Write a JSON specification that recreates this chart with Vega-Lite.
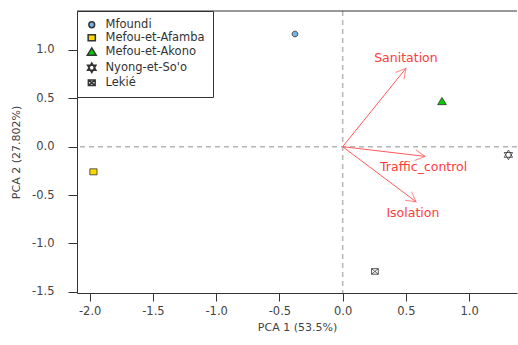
{
  "$schema": "https://vega.github.io/schema/vega-lite/v6.json",
  "width": 440,
  "height": 282,
  "autosize": "none",
  "padding": {"left": 77, "top": 11, "right": 1, "bottom": 52},
  "background": "white",
  "config": {
    "view": {"stroke": null},
    "font": "DejaVu Sans",
    "axis": {
      "grid": false,
      "domainColor": "#333333",
      "tickColor": "#333333",
      "labelColor": "#444444",
      "titleColor": "#444444",
      "labelFont": "DejaVu Sans",
      "titleFont": "DejaVu Sans",
      "labelFontSize": 11.5,
      "titleFontSize": 11,
      "titleFontWeight": "normal"
    },
    "legend": {
      "orient": "none",
      "legendX": 0,
      "legendY": 0,
      "strokeColor": "#333333",
      "fillColor": "white",
      "padding": 8,
      "labelFont": "DejaVu Sans",
      "labelFontSize": 11.5,
      "labelColor": "#333333",
      "labelOffset": 8,
      "rowPadding": 0,
      "symbolSize": 64,
      "symbolOffset": 1
    }
  },
  "datasets": {
    "points": [
      {"district": "Mfoundi", "x": -0.377, "y": 1.165},
      {"district": "Mefou-et-Afamba", "x": -1.97, "y": -0.26},
      {"district": "Mefou-et-Akono", "x": 0.785, "y": 0.47},
      {"district": "Nyong-et-So'o", "x": 1.31, "y": -0.085},
      {"district": "Lekié", "x": 0.255, "y": -1.29}
    ],
    "arrows": [
      {"variable": "Sanitation", "x0": 0, "y0": 0, "x": 0.50, "y": 0.81, "lx": 0.50, "ly": 0.92},
      {"variable": "Traffic_control", "x0": 0, "y0": 0, "x": 0.65, "y": -0.10, "lx": 0.64, "ly": -0.215},
      {"variable": "Isolation", "x0": 0, "y0": 0, "x": 0.58, "y": -0.57, "lx": 0.555, "ly": -0.69}
    ],
    "origin": [{"x": 0, "y": 0}]
  },
  "layer": [
    {
      "data": {"name": "origin"},
      "mark": {"type": "rule", "color": "#b5b5b5", "strokeWidth": 1.5, "strokeDash": [5, 4]},
      "encoding": {
        "x": {
          "field": "x", "type": "quantitative",
          "scale": {"domain": [-2.10, 1.378], "nice": false, "zero": false},
          "axis": {
            "title": "PCA 1 (53.5%)",
            "values": [-2, -1.5, -1, -0.5, 0, 0.5, 1],
            "labelExpr": "replace(format(datum.value, '.1f'), '\u2212', '-')",
            "tickSize": 8,
            "labelPadding": 4,
            "titlePadding": 5,
            "labelFlush": false
          }
        }
      }
    },
    {
      "data": {"name": "origin"},
      "mark": {"type": "rule", "color": "#b5b5b5", "strokeWidth": 1.5, "strokeDash": [5, 4]},
      "encoding": {
        "y": {
          "field": "y", "type": "quantitative",
          "scale": {"domain": [-1.513, 1.403], "nice": false, "zero": false},
          "axis": {
            "title": "PCA 2 (27.802%)",
            "values": [-1.5, -1, -0.5, 0, 0.5, 1],
            "labelExpr": "replace(format(datum.value, '.1f'), '\u2212', '-')",
            "tickSize": 9,
            "labelPadding": 14,
            "titlePadding": 10,
            "labelFlush": false
          }
        }
      }
    },
    {
      "data": {"name": "origin"},
      "mark": {"type": "rule", "color": "#333333", "strokeWidth": 1},
      "encoding": {"y": {"datum": 1.403}}
    },
    {
      "data": {"name": "arrows"},
      "mark": {"type": "rule", "color": "#ff5a5a", "strokeWidth": 1},
      "encoding": {
        "x": {"field": "x0", "type": "quantitative"},
        "y": {"field": "y0", "type": "quantitative"},
        "x2": {"field": "x"},
        "y2": {"field": "y"}
      }
    },
    {
      "data": {"name": "arrows"},
      "transform": [
        {"calculate": "atan2(-datum.y * 96.7, datum.x * 126.5) * 180 / PI", "as": "ang"}
      ],
      "mark": {
        "type": "point",
        "shape": "M-1,-0.55L0,0L-1,0.55",
        "filled": false,
        "stroke": "#ff5a5a",
        "strokeWidth": 1,
        "size": 380
      },
      "encoding": {
        "x": {"field": "x", "type": "quantitative"},
        "y": {"field": "y", "type": "quantitative"},
        "angle": {"field": "ang", "type": "quantitative", "scale": null}
      }
    },
    {
      "data": {"name": "arrows"},
      "mark": {"type": "text", "color": "#ff3b3b", "font": "DejaVu Sans", "fontSize": 12.5, "align": "center", "baseline": "middle"},
      "encoding": {
        "x": {"field": "lx", "type": "quantitative"},
        "y": {"field": "ly", "type": "quantitative"},
        "text": {"field": "variable"}
      }
    },
    {
      "data": {"name": "points"},
      "mark": {"type": "point", "filled": true, "stroke": "#333333", "strokeWidth": 0.8, "opacity": 1, "size": 64},
      "encoding": {
        "x": {"field": "x", "type": "quantitative"},
        "y": {"field": "y", "type": "quantitative"},
        "fill": {
          "field": "district", "type": "nominal",
          "scale": {
            "domain": ["Mfoundi", "Mefou-et-Afamba", "Mefou-et-Akono", "Nyong-et-So'o", "Lekié"],
            "range": ["#74b4e6", "#ffd700", "#00cc00", "transparent", "transparent"]
          },
          "legend": {
            "title": null,
            "encode": {
              "symbols": {
                "update": {
                  "stroke": {"value": "#333333"},
                  "strokeWidth": {"value": 0.8},
                  "opacity": {"value": 1}
                }
              }
            }
          }
        },
        "shape": {
          "field": "district", "type": "nominal",
          "scale": {
            "domain": ["Mfoundi", "Mefou-et-Afamba", "Mefou-et-Akono", "Nyong-et-So'o", "Lekié"],
            "range": [
              "M0.72,0A0.72,0.72 0 1,1 -0.72,0A0.72,0.72 0 1,1 0.72,0Z",
              "M-0.9,-0.75H0.9V0.75H-0.9Z",
              "M0,-0.95L1.1,0.85L-1.1,0.85Z",
              "M0,-1.2L1.04,0.6L-1.04,0.6Z M0,1.2L1.04,-0.6L-1.04,-0.6Z",
              "M-0.85,-0.7H0.85V0.7H-0.85Z M-0.85,-0.7L0.85,0.7 M0.85,-0.7L-0.85,0.7"
            ]
          },
          "legend": {"title": null}
        }
      }
    }
  ]
}
